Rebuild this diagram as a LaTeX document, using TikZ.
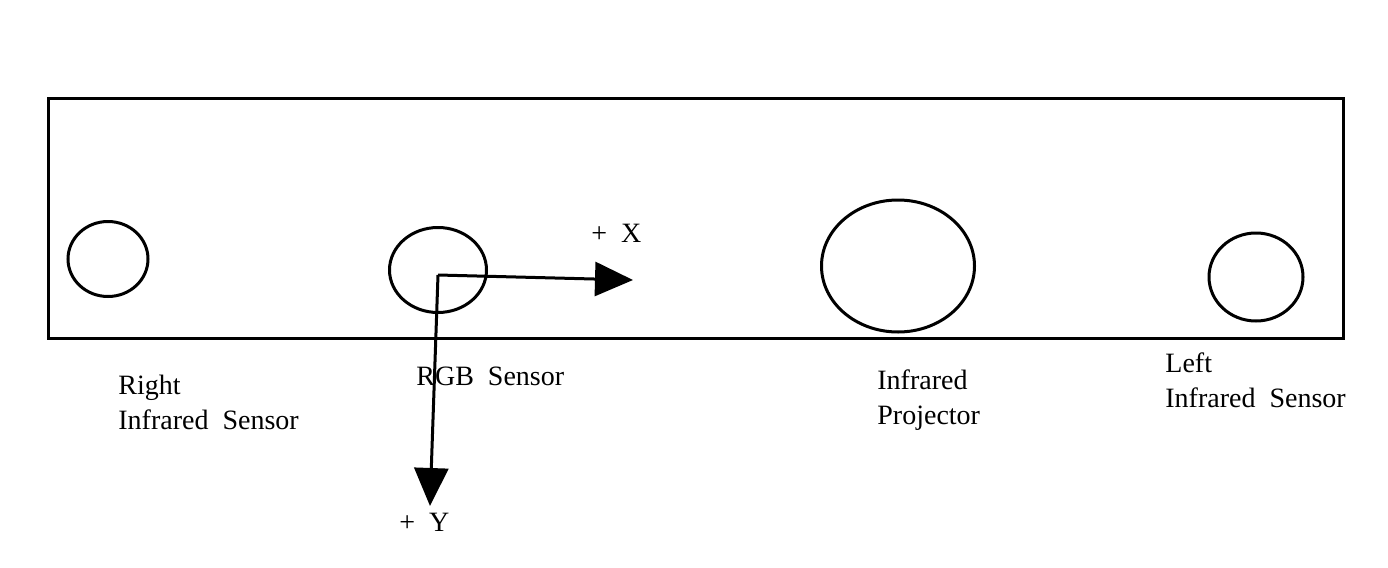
\documentclass[tikz,border=0pt]{standalone}
\usepackage{fontspec}
\setmainfont{Liberation Serif}
\usetikzlibrary{arrows.meta, positioning, shapes.geometric}
\tikzset{
  board/.style={draw, line width=1.5pt, minimum width=647.5pt, minimum height=120pt, inner sep=0pt},
  lens/.style={draw, ellipse, line width=1.5pt, inner sep=0pt},
  axis/.style={-{Triangle[length=19pt, width=17pt]}, line width=1.5pt},
  lbl/.style={anchor=west, align=left, inner sep=0pt, font=\fontsize{14}{17.5}\selectfont},
}
\begin{document}
\begin{tikzpicture}[x=0.5pt, y=-0.5pt]
    \useasboundingbox (0,0) rectangle (1388,568);
    \node[board] (cam) at (695.5,218) {};
    % sensors and projector
    \node[lens, minimum width=40pt, minimum height=37.5pt] (rir) at (108,259) {};
    \node[lens, minimum width=48.5pt, minimum height=42.5pt] (rgb) at (438,270) {};
    \node[lens, minimum width=76.5pt, minimum height=66pt] (proj) at (898,266) {};
    \node[lens, minimum width=47pt, minimum height=44pt] (lir) at (1256,277) {};
    % axes
    \coordinate (o) at (438,275);
    \coordinate (xend) at (633,280);
    \coordinate (yend) at (430,506);
    \draw[axis] (o) -- (xend);
    \draw[axis] (o) -- (yend);
    \node[lbl] (xl) at (591,233) {+\ \ X};
    \node[lbl] (yl) at (399,522) {+\ \ Y};
    % labels
    \node[lbl] (rirl) at (118,402) {Right\\Infrared\ \ Sensor};
    \node[lbl] (rgbl) at (416,376) {RGB\ \ Sensor};
    \node[lbl] (projl) at (877,400) {Infrared\\Projector};
    \node[lbl] (lirl) at (1165,380) {Left\\Infrared\ \ Sensor};
  \end{tikzpicture}
\end{document}
